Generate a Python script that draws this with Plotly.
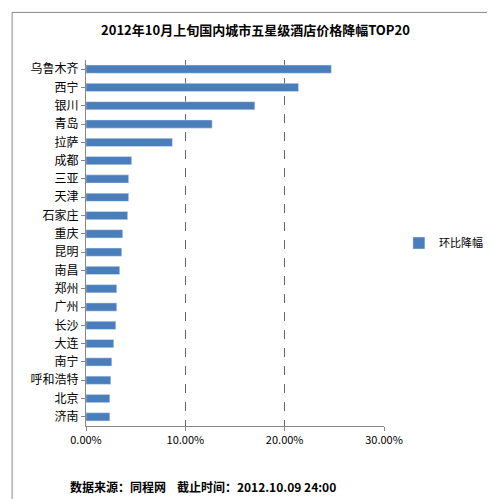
import plotly.graph_objects as go

cities = ["乌鲁木齐","西宁","银川","青岛","拉萨","成都","三亚","天津","石家庄","重庆",
          "昆明","南昌","郑州","广州","长沙","大连","南宁","呼和浩特","北京","济南"]
values = [0.247,0.214,0.170,0.127,0.087,0.046,0.043,0.043,0.042,0.037,
          0.036,0.034,0.031,0.031,0.030,0.028,0.026,0.025,0.024,0.024]
series_name = "环比降幅"
tick_vals = [0,0.1,0.2,0.3]
tick_text = ["0.00%","10.00%","20.00%","30.00%"]

fig = go.Figure(go.Bar(x=values, y=cities, orientation="h", name=series_name,
                       marker_color="#4a7ebb", width=0.45, showlegend=True))
fig.update_layout(
    width=495, height=499, paper_bgcolor="white", plot_bgcolor="white",
    margin=dict(l=78, r=119, t=52, b=81),
    font=dict(family="Noto Sans CJK SC", size=11, color="black"),
    title=dict(text="<b>2012年10月上旬国内城市五星级酒店价格降幅TOP20</b>", x=0.5, xanchor="center",
               y=0.965, font=dict(size=13)),
    legend=dict(x=1.05, y=0.5, xanchor="left", yanchor="middle", font=dict(size=11)),
    bargap=0.5,
    shapes=[dict(type="rect", xref="paper", yref="paper", x0=-0.248, x1=1.383, y0=-0.207, y1=1.13,
                 line=dict(color="#888", width=1))],
    annotations=[dict(text="<b>数据来源：同程网    截止时间：2012.10.09 24:00</b>", xref="paper", yref="paper",
                      x=-0.06, y=-0.164, xanchor="left", yanchor="middle", showarrow=False, font=dict(size=12))],
)
fig.update_xaxes(range=[0,0.3], tickvals=tick_vals, ticktext=tick_text, showgrid=True,
                 gridcolor="#666", griddash="dash", gridwidth=1, showline=True, linecolor="#888",
                 ticks="outside", ticklen=4, tickcolor="#888", zeroline=False)
fig.update_yaxes(autorange="reversed", showline=True, linecolor="#888", ticks="outside",
                 ticklen=4, tickcolor="#888", tickfont=dict(size=12))
fig.write_html("out.html")
